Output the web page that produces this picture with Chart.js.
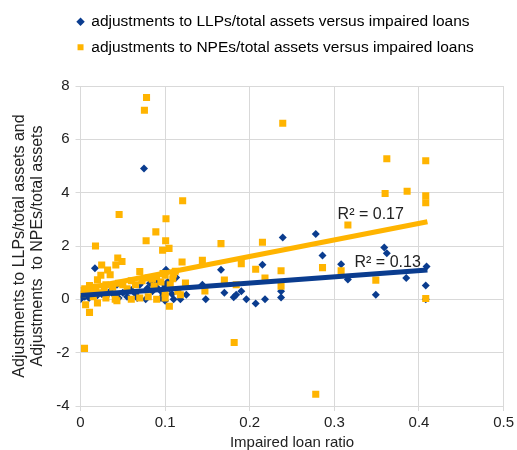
<!DOCTYPE html>
<html>
<head>
<meta charset="utf-8">
<script src="https://cdn.jsdelivr.net/npm/chart.js@4.4.1/dist/chart.umd.min.js"></script>
<style>
  html, body { margin: 0; padding: 0; background: #fff; }
  #wrap { width: 517px; height: 450px; }
</style>
</head>
<body>
<div id="wrap"><canvas id="grafico" width="517" height="450"></canvas></div>
<script>
// Pontos: [impaired loan ratio, ajuste]
const pontosLLP = [
  [0.075, 4.91], [0.017, 1.17], [0.101, 1.11], [0.113, 0.82], [0.166, 1.11],
  [0.215, 1.30], [0.170, 0.25], [0.148, 0.00], [0.144, 0.55], [0.181, 0.08],
  [0.184, 0.17], [0.190, 0.30], [0.196, 0.00], [0.207, -0.16], [0.218, 0.00],
  [0.239, 2.32], [0.278, 2.45], [0.286, 1.64], [0.308, 1.32], [0.316, 0.74],
  [0.237, 0.07], [0.237, 0.30], [0.359, 1.94], [0.362, 1.73], [0.409, 1.23],
  [0.408, 0.52], [0.408, 0.00], [0.385, 0.80], [0.349, 0.17], [0.125, 0.17],
  [0.118, 0.00], [0.090, 0.67], [0.079, 0.42], [0.067, 0.05], [0.077, 0.00],
  [0.043, 0.55], [0.000, 0.00], [0.098, 0.17],
  [0.005, 0.10], [0.010, 0.05], [0.020, 0.15], [0.025, 0.20], [0.030, 0.10],
  [0.035, 0.30], [0.040, 0.15], [0.050, 0.25], [0.055, 0.10], [0.060, 0.35],
  [0.065, 0.20], [0.085, 0.30], [0.090, 0.45], [0.095, 0.30], [0.100, 0.50],
  [0.105, 0.40], [0.108, 0.20], [0.110, 0.00], [0.100, -0.05], [0.095, 0.05],
  [0.012, 0.30], [0.045, 0.05], [0.070, 0.55], [0.082, 0.60], [0.103, 0.65]
];

const pontosNPE = [
  [0.078, 7.57], [0.0755, 7.09], [0.239, 6.60], [0.362, 5.27], [0.408, 5.20],
  [0.360, 3.97], [0.386, 4.05], [0.408, 3.88], [0.408, 3.62], [0.0456, 3.18],
  [0.1207, 3.70], [0.101, 3.02], [0.089, 2.53], [0.0775, 2.20], [0.1006, 2.20],
  [0.0177, 2.00], [0.166, 2.09], [0.215, 2.14], [0.097, 1.84], [0.1046, 1.91],
  [0.316, 2.79], [0.044, 1.55], [0.049, 1.42], [0.0417, 1.29], [0.025, 1.29],
  [0.032, 1.10], [0.035, 0.92], [0.024, 0.90], [0.020, 0.73], [0.070, 1.04],
  [0.0106, 0.52], [0.005, 0.40], [0.006, -0.20], [0.0106, -0.49], [0.020, -0.14],
  [0.043, -0.05], [0.105, -0.26], [0.087, 0.49], [0.120, 1.40], [0.144, 1.46],
  [0.190, 1.34], [0.207, 1.13], [0.218, 0.80], [0.237, 1.07], [0.237, 0.49],
  [0.286, 1.19], [0.308, 1.07], [0.349, 0.72], [0.408, 0.03], [0.278, -3.56],
  [0.0047, -1.84], [0.1816, -1.62], [0.170, 0.72], [0.184, 0.55], [0.147, 0.31],
  [0.124, 0.61], [0.109, 0.77], [0.0975, 0.97], [0.106, 0.55], [0.0727, 0.70],
  [0.050, 0.55], [0.100, 0.24], [0.118, 0.17], [0.041, 0.00],
  [0.002, 0.20], [0.008, 0.30], [0.012, 0.35], [0.015, 0.10], [0.018, 0.45],
  [0.028, 0.40], [0.030, 0.55], [0.038, 0.45], [0.045, 0.60], [0.055, 0.40],
  [0.060, 0.70], [0.065, 0.55], [0.080, 0.80], [0.085, 0.75], [0.090, 0.85],
  [0.095, 0.65], [0.100, 0.90], [0.110, 0.95], [0.115, 0.30], [0.080, 0.10],
  [0.070, 0.05], [0.060, 0.00], [0.030, 0.05], [0.020, 0.25], [0.112, 1.05],
  [0.090, 0.00], [0.100, 0.05]
];

// Linhas de tendência (extremos)
const tendenciaLLP = [[0, 0.14], [0.41, 1.10]];
const tendenciaNPE = [[0, 0.37], [0.41, 2.91]];

const rotulosR2 = [
  { texto: 'R² = 0.17', x: 0.343, y: 3.17 },
  { texto: 'R² = 0.13', x: 0.363, y: 1.39 }
];

const nomes = [
  'adjustments to LLPs/total assets versus impaired loans',
  'adjustments to NPEs/total assets versus impaired loans'
];
const tituloY = ['Adjustments to LLPs/total assets and', 'Adjustments  to NPEs/total assets'];
const tituloX = 'Impaired loan ratio';

const azul = '#0a3c8f';
const laranja = '#ffb400';
const fonte = 'Arial, "Liberation Sans", sans-serif';

const xy = arr => arr.map(p => ({ x: p[0], y: p[1] }));

// Escreve os R² nas coordenadas dos dados
const pluginR2 = {
  id: 'r2',
  afterDatasetsDraw(chart) {
    const { ctx, scales } = chart;
    ctx.save();
    ctx.font = '16px ' + fonte;
    ctx.fillStyle = '#222';
    ctx.textAlign = 'center';
    ctx.textBaseline = 'middle';
    rotulosR2.forEach(r => {
      ctx.fillText(r.texto, scales.x.getPixelForValue(r.x), scales.y.getPixelForValue(r.y));
    });
    ctx.restore();
  }
};

// Ajusta a legenda: mais espaço embaixo e um pouco para a esquerda
const pluginLegenda = {
  id: 'legendaAjuste',
  beforeInit(chart) {
    const lg = chart.legend;
    if (!lg) return;
    const fitOriginal = lg.fit;
    lg.fit = function () {
      fitOriginal.call(this);
      this.height += 21;
    };
  },
  afterLayout(chart) {
    if (chart.legend) {
      chart.legend.left -= 13;
      chart.legend.right -= 13;
    }
  }
};

new Chart(document.getElementById('grafico'), {
  type: 'scatter',
  data: {
    datasets: [
      {
        label: nomes[0],
        data: xy(pontosLLP),
        pointStyle: 'rectRot',
        radius: 4,
        backgroundColor: azul,
        borderColor: azul,
        borderWidth: 0,
        order: 3
      },
      {
        label: nomes[1],
        data: xy(pontosNPE),
        pointStyle: 'rect',
        radius: 5,
        backgroundColor: laranja,
        borderColor: laranja,
        borderWidth: 0,
        order: 2
      },
      {
        label: 'trendNPE',
        type: 'line',
        data: xy(tendenciaNPE),
        borderColor: laranja,
        borderWidth: 5,
        pointRadius: 0,
        fill: false,
        order: 1
      },
      {
        label: 'trendLLP',
        type: 'line',
        data: xy(tendenciaLLP),
        borderColor: azul,
        borderWidth: 5,
        pointRadius: 0,
        fill: false,
        order: 0
      }
    ]
  },
  options: {
    responsive: false,
    animation: false,
    layout: { padding: { left: 11, right: 13, top: 4, bottom: 0 } },
    plugins: {
      tooltip: { enabled: false },
      legend: {
        position: 'top',
        align: 'start',
        fullSize: false,
        labels: {
          usePointStyle: true,
          boxWidth: 6,
          boxHeight: 6,
          padding: 10,
          color: '#000',
          font: { family: fonte, size: 15.5 },
          filter: item => item.datasetIndex < 2,
          sort: (a, b) => a.datasetIndex - b.datasetIndex
        }
      }
    },
    scales: {
      x: {
        type: 'linear',
        min: 0,
        max: 0.5,
        ticks: { stepSize: 0.1, color: '#222', font: { family: fonte, size: 15 }, padding: 3 },
        grid: { color: '#d9d9d9', tickLength: 5 },
        border: { color: '#d9d9d9' },
        title: { display: true, text: tituloX, color: '#222', font: { family: fonte, size: 15, lineHeight: 1.0 }, padding: { top: 0, bottom: 0 } }
      },
      y: {
        min: -4,
        max: 8,
        ticks: { stepSize: 2, color: '#222', font: { family: fonte, size: 15 }, padding: 6 },
        grid: { color: '#d9d9d9', tickLength: 5 },
        border: { color: '#d9d9d9' },
        title: { display: true, text: tituloY, color: '#222', font: { family: fonte, size: 16, lineHeight: 1.1 }, padding: { top: 0, bottom: 4 } }
      }
    }
  },
  plugins: [pluginR2, pluginLegenda]
});
</script>
</body>
</html>
